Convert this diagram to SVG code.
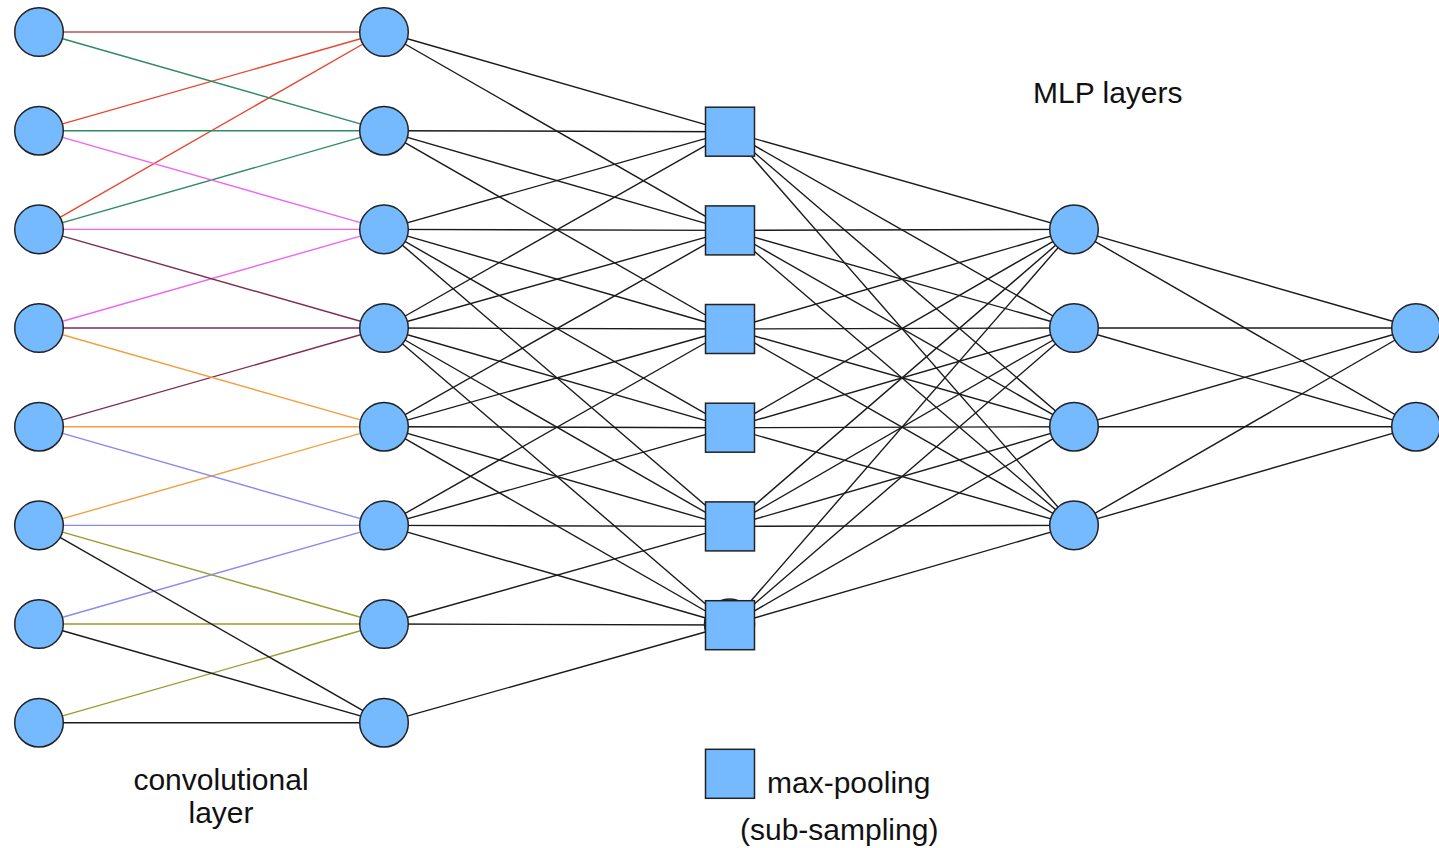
<svg xmlns="http://www.w3.org/2000/svg" width="1439" height="848" viewBox="0 0 1439 848">
<style>
.n{fill:#75b9fe;stroke:#222;stroke-width:1.5}
.c line{stroke-width:1.4;fill:none}
.k{stroke:#1a1a1a}
.red{stroke:#e8462e}.brn{stroke:#b85450}.teal{stroke:#2d8a63}.pink{stroke:#ee66ee}
.mar{stroke:#7b2d52}.org{stroke:#f0a040}.blu{stroke:#8a8aee}.olv{stroke:#9a9a33}
text{font-family:"Liberation Sans",Arial,Helvetica,sans-serif;font-size:30px;fill:#111}
</style>
<rect width="1439" height="848" fill="#fff"/>
<g id="connectors" class="c">
<line class="brn" x1="39" y1="32" x2="384" y2="32"/>
<line class="red" x1="39" y1="130.7" x2="384" y2="32"/>
<line class="red" x1="39" y1="229.4" x2="384" y2="32"/>
<line class="teal" x1="39" y1="32" x2="384" y2="130.7"/>
<line class="teal" x1="39" y1="130.7" x2="384" y2="130.7"/>
<line class="teal" x1="39" y1="229.4" x2="384" y2="130.7"/>
<line class="pink" x1="39" y1="130.7" x2="384" y2="229.4"/>
<line class="pink" x1="39" y1="229.4" x2="384" y2="229.4"/>
<line class="pink" x1="39" y1="328" x2="384" y2="229.4"/>
<line class="mar" x1="39" y1="229.4" x2="384" y2="328"/>
<line class="mar" x1="39" y1="328" x2="384" y2="328"/>
<line class="mar" x1="39" y1="426.7" x2="384" y2="328"/>
<line class="org" x1="39" y1="328" x2="384" y2="426.7"/>
<line class="org" x1="39" y1="426.7" x2="384" y2="426.7"/>
<line class="org" x1="39" y1="525.4" x2="384" y2="426.7"/>
<line class="blu" x1="39" y1="426.7" x2="384" y2="525.4"/>
<line class="blu" x1="39" y1="525.4" x2="384" y2="525.4"/>
<line class="blu" x1="39" y1="624" x2="384" y2="525.4"/>
<line class="olv" x1="39" y1="525.4" x2="384" y2="624"/>
<line class="olv" x1="39" y1="624" x2="384" y2="624"/>
<line class="olv" x1="39" y1="722.7" x2="384" y2="624"/>
<line class="k" x1="39" y1="525.4" x2="384" y2="722.7"/>
<line class="k" x1="39" y1="624" x2="384" y2="722.7"/>
<line class="k" x1="39" y1="722.7" x2="384" y2="722.7"/>
<line class="k" x1="384" y1="32" x2="730" y2="131.7"/>
<line class="k" x1="384" y1="130.7" x2="730" y2="131.7"/>
<line class="k" x1="384" y1="229.4" x2="730" y2="131.7"/>
<line class="k" x1="384" y1="328" x2="730" y2="131.7"/>
<line class="k" x1="384" y1="32" x2="730" y2="230.4"/>
<line class="k" x1="384" y1="130.7" x2="730" y2="230.4"/>
<line class="k" x1="384" y1="229.4" x2="730" y2="230.4"/>
<line class="k" x1="384" y1="328" x2="730" y2="230.4"/>
<line class="k" x1="384" y1="426.7" x2="730" y2="230.4"/>
<line class="k" x1="384" y1="130.7" x2="730" y2="329"/>
<line class="k" x1="384" y1="229.4" x2="730" y2="329"/>
<line class="k" x1="384" y1="328" x2="730" y2="329"/>
<line class="k" x1="384" y1="426.7" x2="730" y2="329"/>
<line class="k" x1="384" y1="525.4" x2="730" y2="329"/>
<line class="k" x1="384" y1="229.4" x2="730" y2="427.7"/>
<line class="k" x1="384" y1="328" x2="730" y2="427.7"/>
<line class="k" x1="384" y1="426.7" x2="730" y2="427.7"/>
<line class="k" x1="384" y1="525.4" x2="730" y2="427.7"/>
<line class="k" x1="384" y1="229.4" x2="730" y2="526.4"/>
<line class="k" x1="384" y1="328" x2="730" y2="526.4"/>
<line class="k" x1="384" y1="426.7" x2="730" y2="526.4"/>
<line class="k" x1="384" y1="525.4" x2="730" y2="526.4"/>
<line class="k" x1="384" y1="624" x2="730" y2="526.4"/>
<line class="k" x1="384" y1="328" x2="730" y2="625"/>
<line class="k" x1="384" y1="426.7" x2="730" y2="625"/>
<line class="k" x1="384" y1="525.4" x2="730" y2="625"/>
<line class="k" x1="384" y1="624" x2="730" y2="625"/>
<line class="k" x1="384" y1="722.7" x2="730" y2="625"/>
<line class="k" x1="730" y1="131.7" x2="1074" y2="229.4"/>
<line class="k" x1="730" y1="131.7" x2="1074" y2="328"/>
<line class="k" x1="730" y1="131.7" x2="1074" y2="426.7"/>
<line class="k" x1="730" y1="131.7" x2="1074" y2="525.4"/>
<line class="k" x1="730" y1="230.4" x2="1074" y2="229.4"/>
<line class="k" x1="730" y1="230.4" x2="1074" y2="328"/>
<line class="k" x1="730" y1="230.4" x2="1074" y2="426.7"/>
<line class="k" x1="730" y1="230.4" x2="1074" y2="525.4"/>
<line class="k" x1="730" y1="329" x2="1074" y2="229.4"/>
<line class="k" x1="730" y1="329" x2="1074" y2="328"/>
<line class="k" x1="730" y1="329" x2="1074" y2="426.7"/>
<line class="k" x1="730" y1="329" x2="1074" y2="525.4"/>
<line class="k" x1="730" y1="427.7" x2="1074" y2="229.4"/>
<line class="k" x1="730" y1="427.7" x2="1074" y2="328"/>
<line class="k" x1="730" y1="427.7" x2="1074" y2="426.7"/>
<line class="k" x1="730" y1="427.7" x2="1074" y2="525.4"/>
<line class="k" x1="730" y1="526.4" x2="1074" y2="229.4"/>
<line class="k" x1="730" y1="526.4" x2="1074" y2="328"/>
<line class="k" x1="730" y1="526.4" x2="1074" y2="426.7"/>
<line class="k" x1="730" y1="526.4" x2="1074" y2="525.4"/>
<line class="k" x1="730" y1="625" x2="1074" y2="229.4"/>
<line class="k" x1="730" y1="625" x2="1074" y2="328"/>
<line class="k" x1="730" y1="625" x2="1074" y2="426.7"/>
<line class="k" x1="730" y1="625" x2="1074" y2="525.4"/>
<line class="k" x1="1074" y1="229.4" x2="1416" y2="328"/>
<line class="k" x1="1074" y1="229.4" x2="1416" y2="426.7"/>
<line class="k" x1="1074" y1="328" x2="1416" y2="328"/>
<line class="k" x1="1074" y1="328" x2="1416" y2="426.7"/>
<line class="k" x1="1074" y1="426.7" x2="1416" y2="328"/>
<line class="k" x1="1074" y1="426.7" x2="1416" y2="426.7"/>
<line class="k" x1="1074" y1="525.4" x2="1416" y2="328"/>
<line class="k" x1="1074" y1="525.4" x2="1416" y2="426.7"/>
</g>
<g id="input">
<g id="in0"><circle class="n" cx="39" cy="32" r="24.3"/></g>
<g id="in1"><circle class="n" cx="39" cy="130.7" r="24.3"/></g>
<g id="in2"><circle class="n" cx="39" cy="229.4" r="24.3"/></g>
<g id="in3"><circle class="n" cx="39" cy="328" r="24.3"/></g>
<g id="in4"><circle class="n" cx="39" cy="426.7" r="24.3"/></g>
<g id="in5"><circle class="n" cx="39" cy="525.4" r="24.3"/></g>
<g id="in6"><circle class="n" cx="39" cy="624" r="24.3"/></g>
<g id="in7"><circle class="n" cx="39" cy="722.7" r="24.3"/></g>
</g>
<g id="conv">
<g id="conv0"><circle class="n" cx="384" cy="32" r="24.3"/></g>
<g id="conv1"><circle class="n" cx="384" cy="130.7" r="24.3"/></g>
<g id="conv2"><circle class="n" cx="384" cy="229.4" r="24.3"/></g>
<g id="conv3"><circle class="n" cx="384" cy="328" r="24.3"/></g>
<g id="conv4"><circle class="n" cx="384" cy="426.7" r="24.3"/></g>
<g id="conv5"><circle class="n" cx="384" cy="525.4" r="24.3"/></g>
<g id="conv6"><circle class="n" cx="384" cy="624" r="24.3"/></g>
<g id="conv7"><circle class="n" cx="384" cy="722.7" r="24.3"/></g>
</g>
<g id="pool">
<g id="pool0"><rect class="n" x="705.5" y="107.2" width="49" height="49"/></g>
<g id="pool1"><rect class="n" x="705.5" y="205.9" width="49" height="49"/></g>
<g id="pool2"><rect class="n" x="705.5" y="304.5" width="49" height="49"/></g>
<g id="pool3"><rect class="n" x="705.5" y="403.2" width="49" height="49"/></g>
<g id="pool4"><rect class="n" x="705.5" y="501.9" width="49" height="49"/></g>
<g id="pool5"><circle class="n" cx="729.5" cy="624" r="25"/><rect class="n" x="705.5" y="600.7" width="49" height="49"/></g>
</g>
<g id="mlp">
<g id="mlp0"><circle class="n" cx="1074" cy="229.4" r="24.3"/></g>
<g id="mlp1"><circle class="n" cx="1074" cy="328" r="24.3"/></g>
<g id="mlp2"><circle class="n" cx="1074" cy="426.7" r="24.3"/></g>
<g id="mlp3"><circle class="n" cx="1074" cy="525.4" r="24.3"/></g>
</g>
<g id="out">
<g id="out0"><circle class="n" cx="1416" cy="328" r="24.3"/></g>
<g id="out1"><circle class="n" cx="1416" cy="426.7" r="24.3"/></g>
</g>
<g id="legend">
<rect class="n" x="705.5" y="749.3" width="49" height="49"/>
<text x="767" y="793">max-pooling</text>
<text x="740" y="840">(sub-sampling)</text>
</g>
<g id="labels">
<text x="221" y="790" text-anchor="middle">convolutional</text>
<text x="221" y="823" text-anchor="middle">layer</text>
<text x="1033" y="103">MLP layers</text>
</g>
</svg>
